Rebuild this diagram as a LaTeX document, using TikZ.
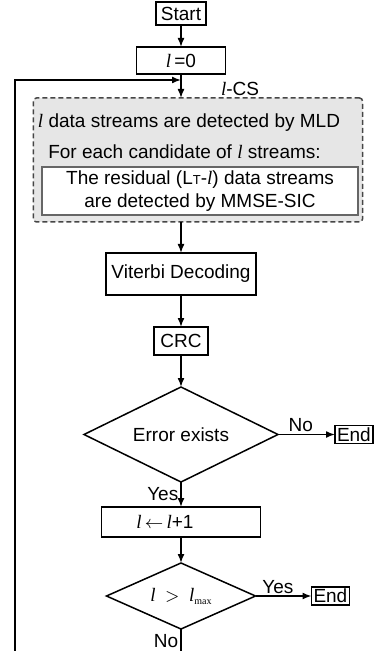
\documentclass[tikz,border=0pt]{standalone}
\usepackage{fontspec}
\setmainfont{Liberation Serif}
\setsansfont{Liberation Sans}
\usetikzlibrary{positioning,arrows.meta,shapes.geometric}
\definecolor{csfill}{RGB}{230,230,230}
\definecolor{csdraw}{RGB}{70,70,70}
\newcommand{\ivar}{{\rmfamily\itshape l}}

\begin{document}
\begin{tikzpicture}[
  font=\sffamily\fontsize{9.5}{11.5}\selectfont,
  >={Latex[length=4.5pt,width=3.5pt]},
  line width=0.75pt,
  box/.style={rectangle, draw, inner sep=1pt, outer sep=0pt, align=center},
  cond/.style={diamond, draw, inner sep=0pt, outer sep=0pt, aspect=2},
  csbox/.style={rectangle, draw=csdraw, fill=csfill, dash pattern=on 2.5pt off 1.5pt,
                rounded corners=1.5pt, outer sep=0pt},
  arr/.style={->},
  lbl/.style={inner sep=1pt}
]

% ---------- frame ----------
\path[use as bounding box] (-90.5pt,6.75pt) rectangle (98pt,-318.75pt);
\clip (-90.5pt,6.75pt) rectangle (98pt,-318.75pt);

% ---------- start ----------
\node[box, minimum width=25pt, minimum height=11.5pt] (start) at (0,0) {Start};
\node[box, minimum width=44.5pt, minimum height=13.5pt, below=11pt of start] (init) {\ivar\,=0};

% ---------- l-CS block ----------
\node[csbox, minimum width=164.5pt, minimum height=62pt, below=12pt of init, xshift=8.5pt] (cs) {};
\node[lbl, above=0pt of cs.north, xshift=21pt] (cslbl) {\ivar-CS};
\node[lbl] (mld)  at ([xshift=-4.5pt,yshift=-12.5pt]cs.north) {\ivar\ data streams are detected by MLD};
\node[lbl] (cand) at ([xshift=-6.75pt,yshift=-27pt]cs.north) {For each candidate of \ivar\ streams:};
\node[box, draw=black!60, fill=white, minimum width=158pt, minimum height=24pt,
      above=3.5pt of cs.south, xshift=1pt] (sic)
  {The residual (L{\fontsize{6.5}{7}\selectfont T}-\ivar) data streams\\are detected by MMSE-SIC};
\coordinate (csout) at (init |- cs.south);

% ---------- decoding chain ----------
\node[box, minimum width=75pt, minimum height=21pt, below=15.5pt of csout] (vit) {Viterbi Decoding};
\node[box, minimum width=27pt, minimum height=14pt, below=16pt of vit] (crc) {CRC};
\node[cond, minimum width=97pt, minimum height=47.5pt, below=16pt of crc] (err) {Error exists};
\node[box, right=28.5pt of err] (end1) {End};
\node[box, minimum width=79.5pt, minimum height=15pt, below=12.5pt of err] (incr)
  {\ivar\,$\leftarrow$\,\ivar+1\hspace*{16pt}};
\node[cond, minimum width=74.5pt, minimum height=33pt, below=13pt of incr] (chk)
  {{\rmfamily\itshape l\enspace$>$\enspace l}{\rmfamily\fontsize{5}{5}\selectfont\raisebox{-1.5pt}{max}}};
\node[box, right=28pt of chk] (end2) {End};

% ---------- connectors ----------
\coordinate (join) at ([yshift=-3pt]init.south);
\coordinate (back) at ([xshift=-83pt]join);

\draw[arr] (start) -- (init);
\draw[arr] (init) -- (init |- cs.north);
\draw[arr] (csout) -- (vit);
\draw[arr] (vit) -- (crc);
\draw[arr] (crc) -- (err);
\draw[arr] (err) -- (end1) node[lbl, pos=0.4, above] {No};
\draw[arr] (err) -- (incr) node[lbl, midway, left] {Yes};
\draw[arr] (incr) -- (chk);
\draw[arr] (chk) -- (end2) node[lbl, pos=0.4, above] {Yes};

% loop back
\draw[arr] (chk.south) -- ++(0,-20pt) node[lbl, pos=0.3, left] {No} -| (back) -- (join);

\end{tikzpicture}
\end{document}
